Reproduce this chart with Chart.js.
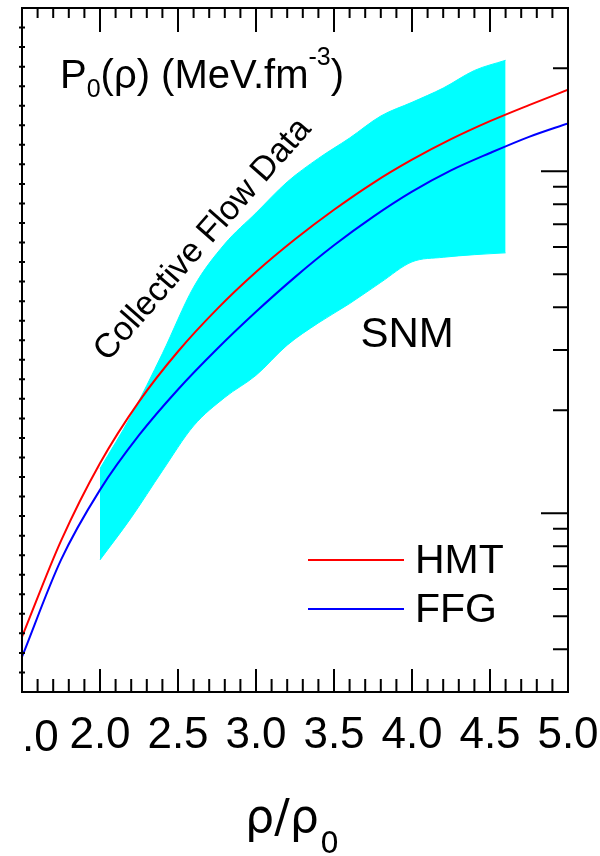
<!DOCTYPE html>
<html>
<head>
<meta charset="utf-8">
<script src="https://cdn.jsdelivr.net/npm/chart.js@4.4.1/dist/chart.umd.min.js"></script>
<style>
  html, body { margin: 0; padding: 0; background: #fff; }
  #wrap { width: 600px; height: 856px; }
</style>
</head>
<body>
<div id="wrap"><canvas id="chart" width="600" height="856"></canvas></div>
<script>
/*------------------------ DATA ---------------------------------*/

// rho / rho0 grid for the two model curves
const rhoCurve = [1.5, 1.75, 2.0, 2.25, 2.5, 2.75, 3.0, 3.25, 3.5, 3.75, 4.0, 4.25, 4.5, 4.75, 5.0]
const hmtP = [4.35, 8.3, 14.0, 21.2, 29.7, 39.5, 50.7, 63.2, 77.1, 92.3, 108, 124, 140, 156, 173]
const ffgP = [3.8, 7.3, 11.7, 16.9, 23.0, 30.2, 38.8, 49.0, 60.7, 73.5, 87.1, 100.5, 113, 126, 138]

// collective flow band
const rhoFlow = [2.0, 2.2, 2.4, 2.6, 2.8, 3.0, 3.2, 3.4, 3.6, 3.8, 4.0, 4.2, 4.4, 4.6]
const flowUpper = [13.5, 19.3, 29.3, 45.8, 61.3, 75.5, 93, 109, 125, 145, 159, 175, 197, 211]
const flowLower = [7.3, 9.7, 13.3, 18.0, 21.8, 25.3, 31, 36, 41, 47.3, 54.3, 56, 57, 57.7]

const xTicks = [1.5, 2.0, 2.5, 3.0, 3.5, 4.0, 4.5, 5.0]
const xTickLabels = ['.0', '2.0', '2.5', '3.0', '3.5', '4.0', '4.5', '5.0']

/*---------------------------------------------------------------*/

const toXY = (xs, ys) => xs.map((x, i) => ({ x: x, y: ys[i] }))
const SANS = '"Liberation Sans", Arial, sans-serif'

const curveStyle = {
    fill: false,
    pointRadius: 0,
    borderWidth: 2,
    cubicInterpolationMode: 'monotone'
}

// frame, inward ticks and text labels
const framePlugin = {
    id: 'frame',
    afterDatasetsDraw(chart) {
        const { ctx, chartArea: a, scales } = chart
        const x = scales.x, y = scales.y, yL = scales.yL
        ctx.save()
        ctx.strokeStyle = '#000'
        ctx.lineWidth = 2
        ctx.beginPath()
        for (let i = 0; i <= 35; i++) {
            const px = x.getPixelForValue(1.5 + i * 0.1)
            const major = i % 5 === 0
            ctx.moveTo(px, a.bottom); ctx.lineTo(px, a.bottom - (major ? 23 : 13))
            ctx.moveTo(px, a.top); ctx.lineTo(px, a.top + (major ? 24 : 10))
        }
        ;[1, 10, 100].forEach(dec => {
            for (let m = 1; m <= 9; m++) {
                const v = m * dec
                if (v <= 3 || v >= 300) continue
                const py = y.getPixelForValue(v)
                ctx.moveTo(a.right, py); ctx.lineTo(a.right - (m === 1 ? 27 : 15), py)
            }
        })
        for (let k = 1; k <= 34; k++) {
            const py = yL.getPixelForValue(k)
            ctx.moveTo(a.left - 3, py); ctx.lineTo(a.left + 3, py)
        }
        ctx.stroke()
        ctx.strokeRect(a.left, a.top, a.right - a.left, a.bottom - a.top)

        ctx.fillStyle = '#000'
        ctx.textBaseline = 'alphabetic'
        ctx.textAlign = 'left'

        // first x label is cut at the left edge in the original
        ctx.font = '44px ' + SANS
        ctx.fillText(xTickLabels[0], x.getPixelForValue(xTicks[0]), 751)

        // panel title P0(rho) (MeV.fm-3)
        let cx = 60
        const put = (t, size, base) => {
            ctx.font = size + 'px ' + SANS
            ctx.fillText(t, cx, base)
            cx += ctx.measureText(t).width
        }
        put('P', 40, 88)
        put('0', 25, 97)
        put('(ρ) (MeV.fm', 40, 88)
        put('-3', 25, 65)
        put(')', 40, 88)

        // SNM
        ctx.font = '42px ' + SANS
        ctx.textBaseline = 'middle'
        ctx.fillText('SNM', x.getPixelForValue(3.67), y.getPixelForValue(33))

        // rotated band label
        ctx.save()
        ctx.translate(x.getPixelForValue(2.66), y.getPixelForValue(63))
        ctx.rotate(-48.7 * Math.PI / 180)
        ctx.textAlign = 'center'
        ctx.font = '34px ' + SANS
        ctx.fillText('Collective Flow Data', 0, 0)
        ctx.restore()

        // legend
        const legendY = [560, 609]
        ;[0, 1].forEach(i => {
            const ds = chart.data.datasets[i]
            ctx.strokeStyle = ds.borderColor
            ctx.lineWidth = 2
            ctx.beginPath()
            ctx.moveTo(308, legendY[i]); ctx.lineTo(404, legendY[i])
            ctx.stroke()
            ctx.font = '41px ' + SANS
            ctx.fillText(ds.label, 415, legendY[i] + 2)
        })

        // x axis title rho/rho0
        ctx.textBaseline = 'alphabetic'
        ctx.font = '46px "DejaVu Sans"'
        ctx.fillText('ρ/ρ', 245, 832)
        const w = ctx.measureText('ρ/ρ').width
        ctx.font = '30px "DejaVu Sans"'
        ctx.fillText('0', 245 + w + 1, 853)
        ctx.restore()
    }
}

const ctx = document.querySelector('#chart').getContext('2d')

const chartData = {
    datasets: [
        { label: 'HMT', data: toXY(rhoCurve, hmtP), borderColor: '#ff0000', ...curveStyle },
        { label: 'FFG', data: toXY(rhoCurve, ffgP), borderColor: '#0000ff', ...curveStyle },
        {
            label: 'Collective Flow Data',
            data: toXY(rhoFlow, flowUpper),
            borderColor: '#00ffff',
            backgroundColor: '#00ffff',
            borderWidth: 1,
            pointRadius: 0,
            fill: '+1',
            cubicInterpolationMode: 'monotone'
        },
        {
            label: 'flow lower',
            data: toXY(rhoFlow, flowLower),
            borderColor: '#00ffff',
            borderWidth: 1,
            pointRadius: 0,
            fill: false,
            cubicInterpolationMode: 'monotone'
        }
    ]
}

const chart = new Chart(ctx, {
    type: 'line',
    data: chartData,
    options: {
        responsive: false,
        animation: false,
        layout: { padding: { left: 22, right: 32, top: 8, bottom: 0 } },
        scales: {
            x: {
                type: 'linear',
                min: 1.5,
                max: 5.0,
                grid: { display: false, drawTicks: false },
                border: { display: false },
                afterBuildTicks: s => { s.ticks = xTicks.map(v => ({ value: v })) },
                ticks: {
                    padding: 17,
                    color: '#000',
                    autoSkip: false,
                    maxRotation: 0,
                    font: { family: 'Liberation Sans', size: 44 },
                    // first label is drawn by the frame plugin
                    callback: (v, i) => i === 0 ? '' : xTickLabels[i]
                },
                afterFit: s => { s.height = 164; s.paddingLeft = 0; s.paddingRight = 0 }
            },
            y: { type: 'logarithmic', min: 3, max: 300, display: false },
            yL: { type: 'linear', min: 0, max: 35, display: false, position: 'left' }
        },
        plugins: {
            legend: { display: false },
            tooltip: { enabled: false }
        }
    },
    plugins: [framePlugin]
})
</script>
</body>
</html>
